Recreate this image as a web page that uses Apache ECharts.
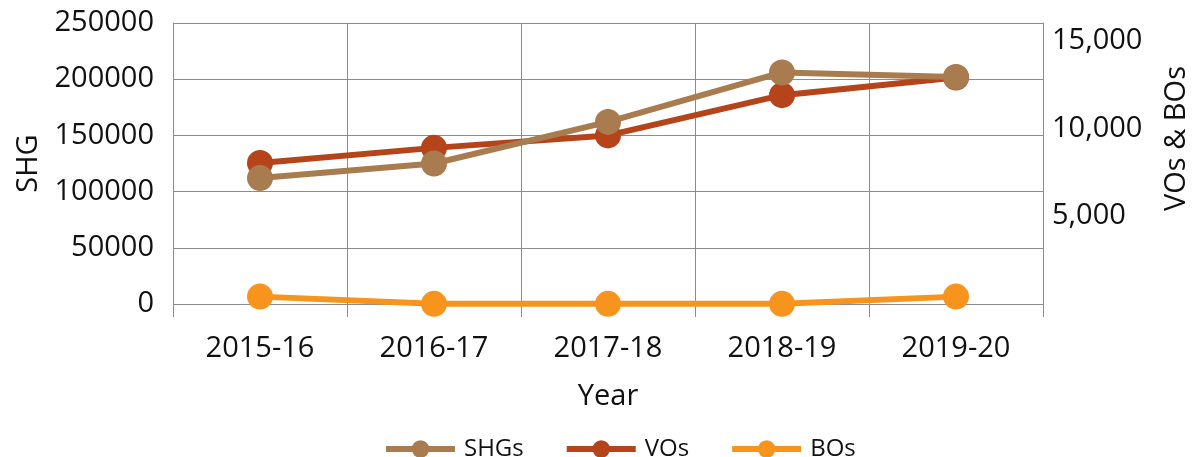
<!DOCTYPE html>
<html>
<head>
<meta charset="utf-8">
<title>SHGs VOs BOs</title>
<script src="https://cdn.jsdelivr.net/npm/echarts@6.0.0/dist/echarts.min.js"></script>
<style>
	html, body { margin: 0; padding: 0; background: #fff; }
	#main { width: 1198px; height: 457px; }
</style>
</head>
<body>
<div id="main"></div>
<script>
// 数据
var years = ['2015-16', '2016-17', '2017-18', '2018-19', '2019-20'];
var shgData = [112000, 125000, 162000, 206000, 202000];
var voData = [8030, 8890, 9600, 11890, 12900];
var boData = [420, 10, 10, 10, 420];

var gridColor = '#8c8c8c';
var fontName = 'Open Sans';

$init();

function $init() {
	var myChart = echarts.init(document.getElementById('main'));

	var option = {
		animation: false,
		textStyle: { fontFamily: fontName, color: '#111' },
		grid: { left: 173, right: 155, top: 23, bottom: 153, containLabel: false, outerBoundsMode: 'none' },
		legend: {
			left: 378,
			top: 432,
			itemWidth: 69,
			itemHeight: 22,
			itemGap: 40,
			lineStyle: { width: 6 },
			textStyle: { fontSize: 24, color: '#111', fontFamily: fontName, padding: [0, 0, 0, 4] },
			data: ['SHGs', 'VOs', 'BOs']
		},
		xAxis: {
			type: 'category',
			data: years,
			boundaryGap: true,
			name: 'Year',
			nameLocation: 'middle',
			nameGap: 78,
			nameTextStyle: { fontSize: 29, color: '#111' },
			axisLine: { show: false },
			axisTick: { show: true, length: 13, lineStyle: { color: gridColor } },
			axisLabel: { fontSize: 29, color: '#111', margin: 30 },
			splitLine: { show: true, lineStyle: { color: gridColor, width: 1 } }
		},
		yAxis: [
			{
				type: 'value',
				min: 0,
				max: 250000,
				interval: 50000,
				name: 'SHG',
				nameLocation: 'middle',
				nameGap: 126,
				nameRotate: 90,
				nameTextStyle: { fontSize: 29, color: '#111' },
				axisLine: { show: true, lineStyle: { color: gridColor } },
				axisTick: { show: false },
				axisLabel: {
					fontSize: 29,
					color: '#111',
					margin: 19,
					formatter: function (v) {
						return String(v);
					}
				},
				splitLine: { show: true, lineStyle: { color: gridColor, width: 1 } }
			},
			{
				type: 'value',
				min: 0,
				max: 16000,
				interval: 5000,
				name: 'VOs & BOs',
				nameLocation: 'middle',
				nameGap: 119,
				nameRotate: 90,
				nameTextStyle: { fontSize: 29, color: '#111', padding: [0, 0, 0, 50] },
				axisLine: { show: true, lineStyle: { color: gridColor } },
				axisTick: { show: false },
				axisLabel: {
					fontSize: 29,
					color: '#111',
					margin: 9,
					showMinLabel: false,
					showMaxLabel: false,
					formatter: function (v) {
						return v.toLocaleString('en-US');
					}
				},
				splitLine: { show: false }
			}
		],
		series: [
			{
				name: 'VOs',
				type: 'line',
				yAxisIndex: 1,
				data: voData,
				symbol: 'circle',
				symbolSize: 26,
				z: 3,
				itemStyle: { color: '#b5441b' },
				lineStyle: { color: '#b5441b', width: 6 }
			},
			{
				name: 'SHGs',
				type: 'line',
				yAxisIndex: 0,
				data: shgData,
				symbol: 'circle',
				symbolSize: 26,
				z: 4,
				itemStyle: { color: '#a97c50' },
				lineStyle: { color: '#a97c50', width: 6 }
			},
			{
				name: 'BOs',
				type: 'line',
				yAxisIndex: 1,
				data: boData,
				symbol: 'circle',
				symbolSize: 26,
				z: 2,
				itemStyle: { color: '#f7941d' },
				lineStyle: { color: '#f7941d', width: 6 }
			}
		]
	};

	myChart.setOption(option);
}
</script>
</body>
</html>
